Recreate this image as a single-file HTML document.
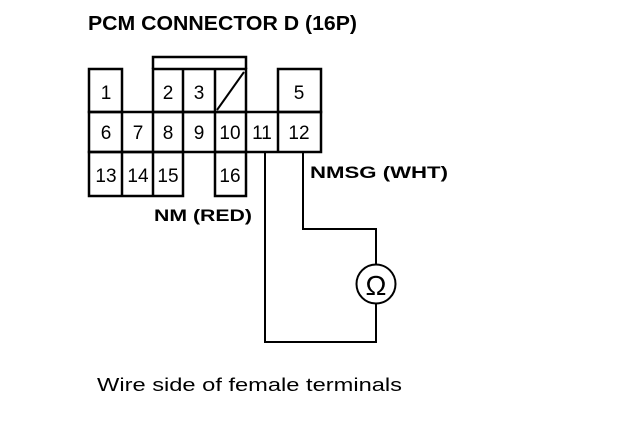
<!DOCTYPE html>
<html><head><style>html,body{margin:0;padding:0;background:#fff}</style></head>
<body>
<svg width="624" height="428" viewBox="0 0 624 428" xmlns="http://www.w3.org/2000/svg" font-family="Liberation Sans, Arial, sans-serif">
<rect width="624" height="428" fill="#fff"/>
<g stroke="#000" stroke-width="2.5" fill="none">
<polyline points="153,69 153,57 246,57 246,69"/>
<rect x="89" y="69" width="33" height="43"/>
<rect x="153" y="69" width="93" height="43"/>
<line x1="183" y1="69" x2="183" y2="112"/>
<line x1="215" y1="69" x2="215" y2="112"/>
<line x1="217" y1="110" x2="244" y2="72" stroke-width="2"/>
<rect x="278" y="69" width="43" height="43"/>
<rect x="89" y="112" width="232" height="40"/>
<line x1="122" y1="112" x2="122" y2="152"/>
<line x1="153" y1="112" x2="153" y2="152"/>
<line x1="183" y1="112" x2="183" y2="152"/>
<line x1="215" y1="112" x2="215" y2="152"/>
<line x1="246" y1="112" x2="246" y2="152"/>
<line x1="278" y1="112" x2="278" y2="152"/>
<rect x="89" y="152" width="94" height="44"/>
<line x1="122" y1="152" x2="122" y2="196"/>
<line x1="153" y1="152" x2="153" y2="196"/>
<rect x="215" y="152" width="31" height="44"/>
<polyline points="265,152 265,342 376,342 376,304" stroke-width="2"/>
<polyline points="303,152 303,229 376,229 376,265" stroke-width="2"/>
<circle cx="376" cy="284" r="19.5" stroke-width="2"/>
</g>
<g font-size="19" text-anchor="middle" fill="#000">
<text x="106" y="99">1</text>
<text x="168" y="99">2</text>
<text x="199" y="99">3</text>
<text x="299" y="99">5</text>
<text x="106" y="139">6</text>
<text x="138" y="139">7</text>
<text x="168" y="139">8</text>
<text x="199" y="139">9</text>
<text x="230" y="139">10</text>
<text x="262" y="139">11</text>
<text x="299" y="139">12</text>
<text x="106" y="182">13</text>
<text x="138" y="182">14</text>
<text x="168" y="182">15</text>
<text x="230" y="182">16</text>
<text x="376" y="295" font-size="28">Ω</text>
</g>
<text x="88" y="30" font-size="20" font-weight="bold" textLength="269" lengthAdjust="spacingAndGlyphs">PCM CONNECTOR D (16P)</text>
<text x="154" y="221" font-size="17" font-weight="bold" textLength="98" lengthAdjust="spacingAndGlyphs">NM (RED)</text>
<text x="310" y="178" font-size="17" font-weight="bold" textLength="138" lengthAdjust="spacingAndGlyphs">NMSG (WHT)</text>
<text x="97" y="391" font-size="18" textLength="305" lengthAdjust="spacingAndGlyphs">Wire side of female terminals</text>
</svg>
</body></html>
